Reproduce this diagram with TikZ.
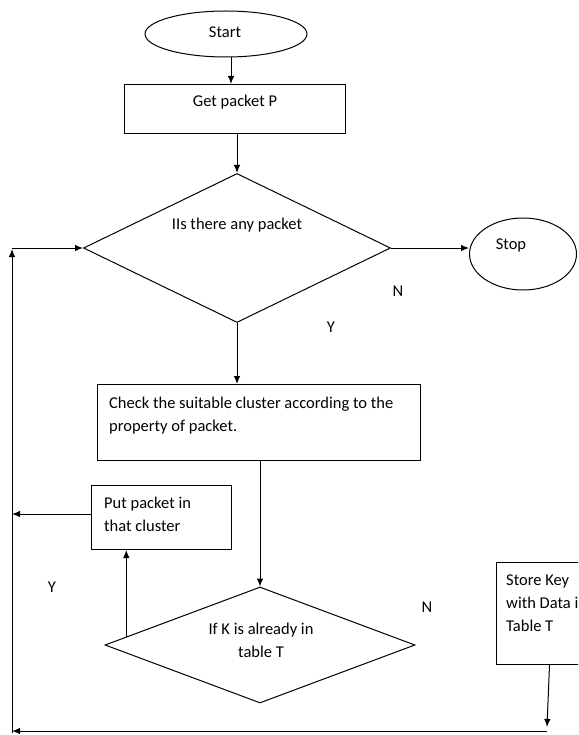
\documentclass[tikz,border=0pt]{standalone}
\usepackage{fontspec}
\setmainfont{Carlito}
\usetikzlibrary{shapes.geometric,arrows.meta,calc}
\begin{document}
\begin{tikzpicture}[x=1pt,y=-1pt,
  every node/.style={font=\fontsize{16.5}{23}\selectfont, inner sep=0pt},
  line/.style={line width=1pt, draw=black},
  arr/.style={line, -{Latex[length=8pt,width=6.5pt]}},
  boxnode/.style={line, rectangle, anchor=north west},
  txt/.style={text=black},
  lbl/.style={text=black}]
\useasboundingbox (0,0) rectangle (578,735);
\clip (0,0) rectangle (578,735);
% shapes
\node[line, ellipse, minimum width=162pt, minimum height=46pt] (start) at (226,34) {};
\node[boxnode, minimum width=221pt, minimum height=49pt] (get) at (124,84) {};
\node[line, diamond, minimum width=307pt, minimum height=149pt] (d1) at (237,248) {};
\node[line, ellipse, minimum width=107pt, minimum height=72pt] (stop) at (523,254) {};
\node[boxnode, minimum width=323pt, minimum height=76pt] (check) at (97,384) {};
\node[boxnode, minimum width=140pt, minimum height=64pt] (put) at (91,485) {};
\node[line, diamond, minimum width=310pt, minimum height=116pt] (d2) at (260,645) {};
\node[boxnode, minimum width=110pt, minimum height=102pt] (store) at (496,562) {};
% texts
\node[txt] (tstart) at (225,32) {Start};
\node[txt] (tget) at (235,102) {Get packet P};
\node[txt] (td1) at (237,225) {IIs there any packet};
\node[txt] (tstop) at (511,245) {Stop};
\node[txt, anchor=west, align=left] (tcheck) at (109,416) {Check the suitable cluster according to the\\property of packet.};
\node[txt, anchor=west, align=left] (tput) at (104,514) {Put packet in\\that cluster};
\node[txt, align=center] (td2) at (261,640) {If K is already in\\table T};
\node[txt, anchor=west, align=left] (tstore) at (506,603) {Store Key\\with Data in\\Table T};
\node[lbl] (n1) at (398,291) {N};
\node[lbl] (y1) at (331,327) {Y};
\node[lbl] (y2) at (52,587) {Y};
\node[lbl] (n2) at (427,607) {N};
% coordinates
\coordinate (k) at ($(d2.west)!0.14!(d2.north)$);
\coordinate (lp) at (12,514);
\coordinate (sb) at (547,727);
\coordinate (br) at (547,731);
\coordinate (bl) at (12,731);
\coordinate (lb) at (12,733);
\coordinate (lt) at (12,249);
\coordinate (lh) at (12,248);
% connectors
\draw[arr] ([xshift=5pt]start.south) -- ([xshift=5pt]start.south |- get.north);
\draw[arr] (d1.north |- get.south) -- (d1.north);
\draw[arr] (d1.east) -- (d1.east -| stop.west);
\draw[arr] (d1.south) -- (check.north -| d1.south);
\draw[arr] (d2.north |- check.south) -- (d2.north);
\draw[arr] (k) -- (k |- put.south);
\draw[arr] (put.west |- lp) -- (lp);
\draw[arr] ([xshift=-2pt]store.south) -- (sb);
\draw[arr] (br) -- (bl);
\draw[arr] (lb) -- (lt);
\draw[arr] (lh) -- (d1.west);
\end{tikzpicture}
\end{document}
